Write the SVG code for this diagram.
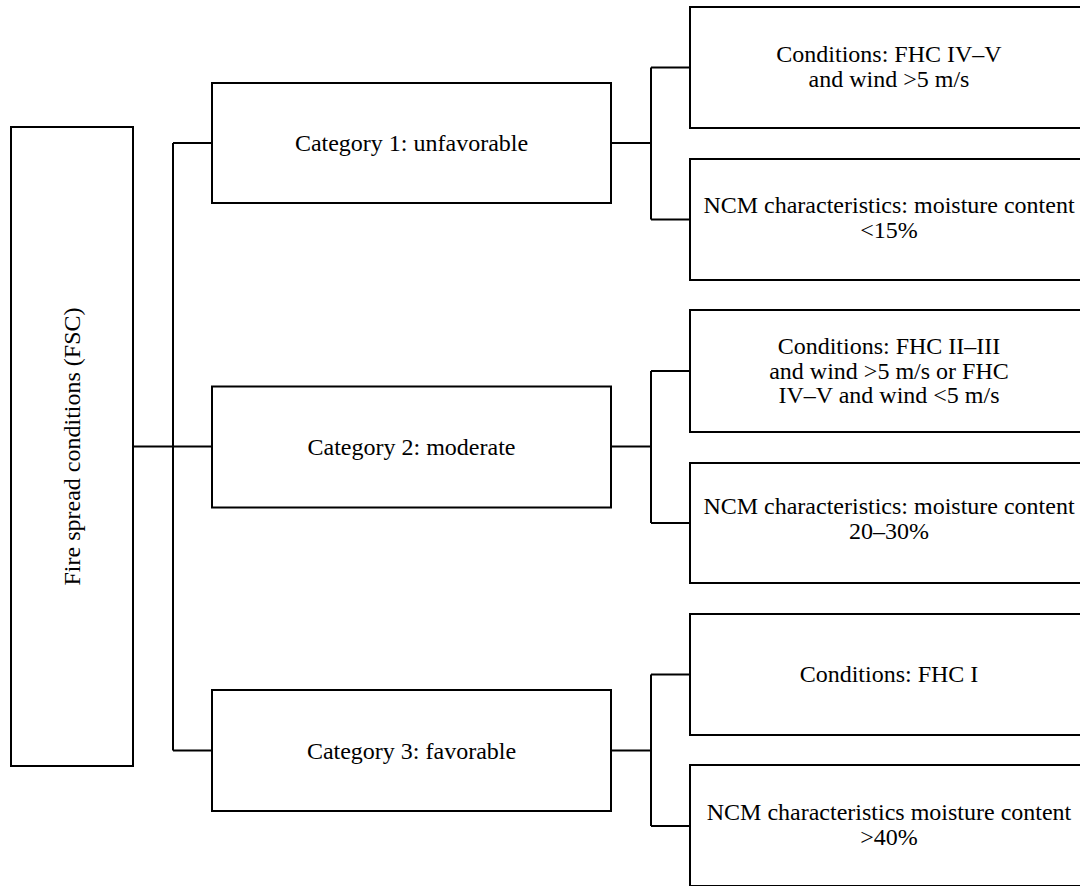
<svg xmlns="http://www.w3.org/2000/svg" width="1080" height="886" viewBox="0 0 1080 886">
<style>
.box{fill:#fff;stroke:#000;stroke-width:2}
.ln{fill:none;stroke:#000;stroke-width:2}
text{font-family:"Liberation Serif","Times New Roman",serif;font-size:24px;fill:#000;text-anchor:middle}
</style>
<rect width="1080" height="886" fill="#fff"/>
<g id="connectors">
<path class="ln" d="M133,446.5 H212 M173,143 V750.5 M173,143 H212 M173,750.5 H212"/>
<path class="ln" d="M611,143 H651 M651,67.5 V219.5 M651,67.5 H690 M651,219.5 H690"/>
<path class="ln" d="M611,446.5 H651 M651,371 V523 M651,371 H690 M651,523 H690"/>
<path class="ln" d="M611,750.5 H651 M651,674.5 V826 M651,674.5 H690 M651,826 H690"/>
</g>
<g id="root">
<rect class="box" x="11" y="127" width="122" height="639"/>
<text transform="translate(80,446.5) rotate(-90)">Fire spread conditions (FSC)</text>
</g>
<g id="cat1">
<rect class="box" x="212" y="83" width="399" height="120"/>
<text x="411.5" y="151">Category 1: unfavorable</text>
</g>
<g id="cat2">
<rect class="box" x="212" y="386.5" width="399" height="121"/>
<text x="411.5" y="455">Category 2: moderate</text>
</g>
<g id="cat3">
<rect class="box" x="212" y="690" width="399" height="121"/>
<text x="411.5" y="758.5">Category 3: favorable</text>
</g>
<g id="c1a">
<rect class="box" x="690" y="7" width="398" height="121"/>
<text x="889" y="62">Conditions: FHC IV–V</text>
<text x="889" y="87">and wind &gt;5 m/s</text>
</g>
<g id="c1b">
<rect class="box" x="690" y="159" width="398" height="121"/>
<text x="889" y="213">NCM characteristics: moisture content</text>
<text x="889" y="238">&lt;15%</text>
</g>
<g id="c2a">
<rect class="box" x="690" y="310" width="398" height="122"/>
<text x="889" y="354">Conditions: FHC II–III</text>
<text x="889" y="378.5">and wind &gt;5 m/s or FHC</text>
<text x="889" y="403">IV–V and wind &lt;5 m/s</text>
</g>
<g id="c2b">
<rect class="box" x="690" y="463" width="398" height="120"/>
<text x="889" y="514">NCM characteristics: moisture content</text>
<text x="889" y="539">20–30%</text>
</g>
<g id="c3a">
<rect class="box" x="690" y="614" width="398" height="121"/>
<text x="889" y="682">Conditions: FHC I</text>
</g>
<g id="c3b">
<rect class="box" x="690" y="765" width="398" height="121"/>
<text x="889" y="820">NCM characteristics moisture content</text>
<text x="889" y="845">&gt;40%</text>
</g>
</svg>
